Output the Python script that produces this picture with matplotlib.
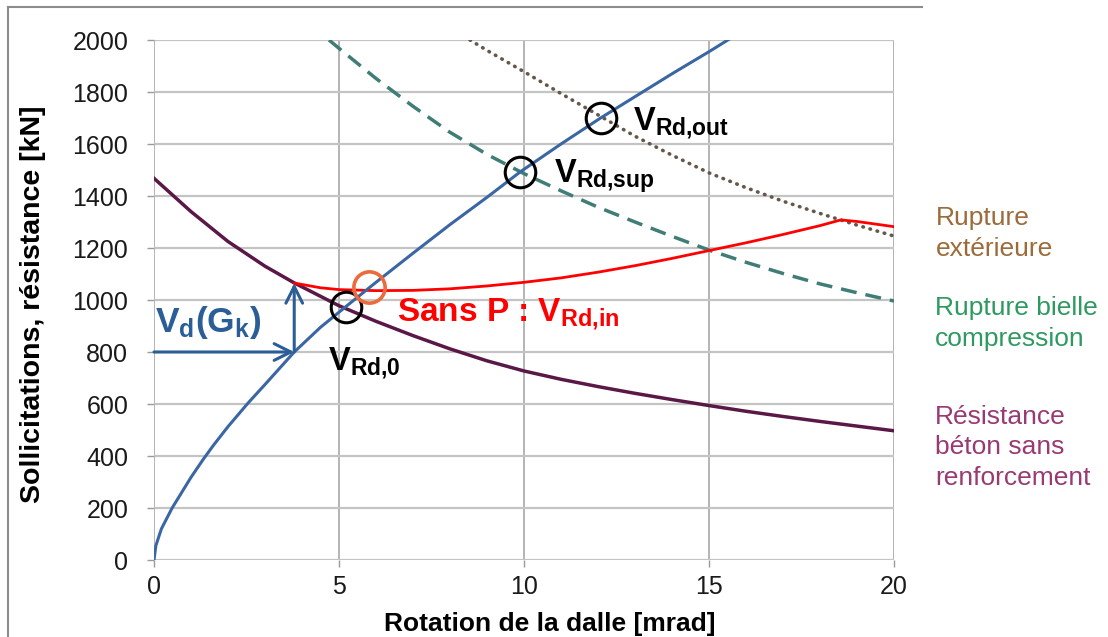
import matplotlib
matplotlib.use("Agg")
import matplotlib.pyplot as plt
from matplotlib.lines import Line2D

plt.rcParams['font.family'] = ['Liberation Sans', 'DejaVu Sans']
plt.rcParams['mathtext.fontset'] = 'custom'
plt.rcParams['mathtext.rm'] = 'Liberation Sans'
plt.rcParams['mathtext.bf'] = 'Liberation Sans:bold'
plt.rcParams['mathtext.it'] = 'Liberation Sans:italic'

# ====== Données (rotation [mrad], effort [kN]) ======
# courbe de sollicitation (charge-rotation)
rot_action = [0, 0.05, 0.2, 0.49, 1.0, 1.32, 1.6, 2.0, 2.55, 3.0, 3.79, 4.5, 5.18, 6.0, 7.0,
              8.0, 9.0, 9.9, 11.0, 12.07, 13.0, 14.0, 15.0, 15.6]
v_action = [0, 55, 120, 200, 318, 385, 440, 513, 605, 675, 800, 895, 974, 1068, 1180,
            1290, 1395, 1493, 1600, 1700, 1782, 1870, 1955, 2008]

# résistance béton sans renforcement
rot_beton = [0, 1, 2, 3, 3.8, 5, 6, 7, 8, 9, 10, 11, 12, 13, 14, 15, 16, 17, 18, 19, 20]
v_beton = [1468, 1340, 1225, 1130, 1065, 978, 918, 863, 812, 766, 727, 695, 667, 641,
           617, 594, 572, 552, 533, 515, 497]

# sans P : V_Rd,in
rot_inner = [3.8, 4.5, 5, 6, 7, 8, 9, 10, 11, 12, 13, 14, 15, 16, 17, 18, 18.56, 19, 20]
v_inner = [1065, 1047, 1040, 1036, 1037, 1043, 1054, 1068, 1085, 1107, 1132, 1160, 1190,
           1220, 1252, 1286, 1308, 1302, 1282]

# rupture bielle compression
rot_bielle = [4.73, 5, 6, 7, 8, 9, 10, 11, 12, 13, 14, 15, 16, 17, 18, 19, 20]
v_bielle = [2000, 1968, 1852, 1745, 1645, 1560, 1486, 1420, 1357, 1300, 1245, 1192, 1145,
            1102, 1062, 1028, 996]

# rupture extérieure
rot_ext = [8.54, 9, 10, 11, 12, 13, 14, 15, 16, 17, 18, 19, 20]
v_ext = [2000, 1960, 1878, 1794, 1712, 1630, 1557, 1489, 1432, 1380, 1333, 1288, 1246]

# points marqués (cercles)
circ_x = [5.18, 9.89, 12.07]
circ_y = [974, 1493, 1700]
circ_in = (5.81, 1049)

# V_d(G_k)
vd_rot = 3.79
vd_load = 800
vd_top = 1065

x_ticks = [0, 5, 10, 15, 20]
y_ticks = list(range(0, 2001, 200))

# ====== Couleurs ======
C_BLUE = "#3a67a3"
C_BLUE_TXT = "#2b5d97"
C_PURPLE = "#5a1846"
C_RED = "#ff0000"
C_DASH = "#3f7d76"
C_DOT = "#65584a"
C_ORANGE = "#ec6a3c"

W, H = 1108, 637
fig = plt.figure(figsize=(W / 100, H / 100), dpi=100)
ax = fig.add_axes([154 / W, 77 / H, 740 / W, 520 / H])

ax.set_xlim(0, 20)
ax.set_ylim(0, 2000)
ax.set_xticks(x_ticks)
ax.set_yticks(y_ticks)
ax.grid(axis="y", color="#c4c4c4", lw=1.6)
ax.grid(axis="x", color="#a8a8a8", lw=1.2)
ax.set_axisbelow(True)
for sp in ax.spines.values():
    sp.set_visible(False)
ax.tick_params(axis="both", length=5, width=1, color="#9a9a9a", labelsize=18,
               labelcolor="#1a1a1a")
ax.tick_params(axis="y", pad=13.5)
ax.tick_params(axis="x", pad=6)

# courbes
ax.plot(rot_ext, v_ext, color=C_DOT, lw=2.6, dashes=(0.15, 1.9), dash_capstyle="round")
ax.plot(rot_bielle, v_bielle, color=C_DASH, lw=2.5, dashes=(4.6, 2.6))
ax.plot(rot_beton, v_beton, color=C_PURPLE, lw=2.5)
ax.plot(rot_inner, v_inner, color=C_RED, lw=2.0)
ax.plot(rot_action, v_action, color=C_BLUE, lw=2.2)

# cercles
ax.plot(circ_x, circ_y, ls="none", marker="o", ms=22, mfc="none", mec="black", mew=2.2)
ax.plot([circ_in[0]], [circ_in[1]], ls="none", marker="o", ms=22.5, mfc="none",
        mec=C_ORANGE, mew=2.6)

# flèches V_d(G_k)
arrow_kw = dict(arrowstyle="->,head_length=0.6,head_width=0.3", lw=2.2, color=C_BLUE_TXT,
                shrinkA=0, shrinkB=0, mutation_scale=20)
ax.annotate("", xy=(vd_rot, vd_load), xytext=(0, vd_load), arrowprops=arrow_kw)
ax.annotate("", xy=(vd_rot, vd_top), xytext=(vd_rot, vd_load), arrowprops=arrow_kw)

# annotations
big = 23.5
ax.text(12.95, 1654, r"$\mathbf{V}_{\mathbf{Rd{,}out}}$", fontsize=big, va="baseline")
ax.text(10.81, 1451, r"$\mathbf{V}_{\mathbf{Rd{,}sup}}$", fontsize=big, va="baseline")
ax.text(4.71, 731, r"$\mathbf{V}_{\mathbf{Rd{,}0}}$", fontsize=big, va="baseline")
ax.text(6.56, 917, r"Sans P : $\mathbf{V}_{\mathbf{Rd{,}in}}$", fontsize=big + 0.5,
        fontweight="bold", color=C_RED, va="baseline")
ax.text(0.03, 878, r"$\mathbf{V}_{\mathbf{d}}\mathbf{(G}_{\mathbf{k}}\mathbf{)}$",
        fontsize=25.5, color=C_BLUE_TXT, va="baseline")

# libellés des axes
fig.text(550 / W, 5.5 / H, "Rotation de la dalle [mrad]", fontsize=19, fontweight="bold",
         ha="center", va="baseline")
fig.text(33 / W, 1 - 304 / H, "Sollicitations, résistance [kN]", fontsize=20.5,
         fontweight="bold", rotation=90, ha="center", va="center")

# légende à droite (va=baseline -> ligne du bas)
fig.text(936 / W, 1 - 256.5 / H, "Rupture\nextérieure", fontsize=19, color="#9c6b3a",
         va="baseline", linespacing=1.42)
fig.text(935 / W, 1 - 346 / H, "Rupture bielle\ncompression", fontsize=19,
         color="#2f9a60", va="baseline", linespacing=1.38)
fig.text(935 / W, 1 - 485 / H, "Résistance\nbéton sans\nrenforcement", fontsize=19,
         color="#993a73", va="baseline", linespacing=1.35)

# cadre
fig.add_artist(Line2D([8 / W, 922 / W], [1 - 7 / H, 1 - 7 / H], color="#8c8c8c", lw=1.5))
fig.add_artist(Line2D([8 / W, 8 / W], [0, 1 - 7 / H], color="#8c8c8c", lw=1.5))

fig.savefig("out.png", dpi=100)
